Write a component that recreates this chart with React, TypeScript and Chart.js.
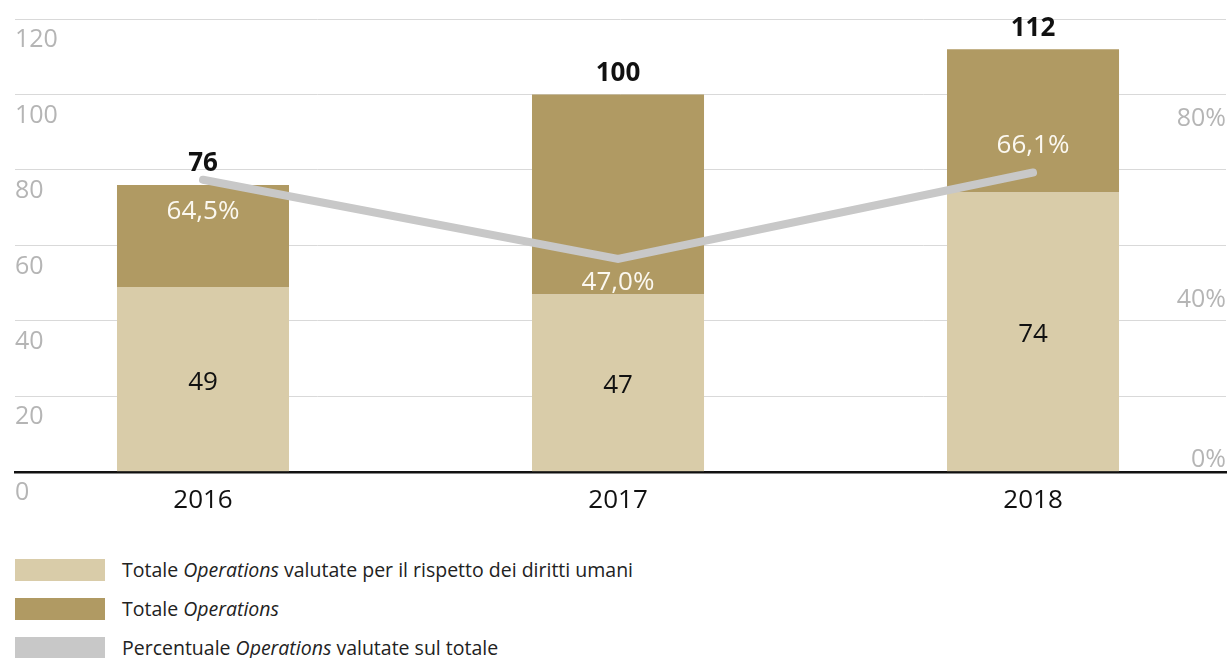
import React, { useEffect, useRef } from 'react';
import { Chart, registerables } from 'chart.js';

Chart.register(...registerables);

// ---- Data ----
const categories = ['2016', '2017', '2018'];
const assessedOps = [49, 47, 74];
const totalOps = [76, 100, 112];
const pctAssessed = [64.5, 47.0, 66.1];
const leftTicks = [0, 20, 40, 60, 80, 100, 120];
const rightTicks = [0, 40, 80];
const legendLabels: string[][] = [
  ['Totale ', 'Operations', ' valutate per il rispetto dei diritti umani'],
  ['Totale ', 'Operations', ''],
  ['Percentuale ', 'Operations', ' valutate sul totale'],
];

// ---- Styles ----
const FONT = '"Open Sans", Lato, sans-serif';
const COLORS = {
  light: '#d9cca9',
  dark: '#b09a63',
  line: '#c8c8c8',
  grid: '#d9d9d9',
  axisText: '#b5b5b5',
  text: '#111111',
  pctText: '#fbf8f0',
};
const legendColors = [COLORS.light, COLORS.dark, COLORS.line];
const pctLabelOffsets = [32, 24, -27];

const fmtPct = (v: number) => v.toFixed(1).replace('.', ',') + '%';

const labelsPlugin = {
  id: 'valueLabels',
  afterDatasetsDraw(chart: any) {
    const ctx = chart.ctx as CanvasRenderingContext2D;
    const baseMeta = chart.getDatasetMeta(0);
    const topMeta = chart.getDatasetMeta(1);
    const lineMeta = chart.getDatasetMeta(2);
    ctx.save();
    ctx.textAlign = 'center';
    ctx.textBaseline = 'middle';
    categories.forEach((_, i) => {
      const b = baseMeta.data[i] as any;
      const t = topMeta.data[i] as any;
      const p = lineMeta.data[i] as any;
      ctx.fillStyle = COLORS.text;
      ctx.font = `400 26px ${FONT}`;
      ctx.fillText(String(assessedOps[i]), b.x, (b.y + b.base) / 2 + 3);
      ctx.font = `700 26px ${FONT}`;
      ctx.fillText(String(totalOps[i]), t.x, t.y - 21);
      ctx.fillStyle = COLORS.pctText;
      ctx.font = `400 26px ${FONT}`;
      ctx.fillText(fmtPct(pctAssessed[i]), p.x, p.y + pctLabelOffsets[i]);
    });
    ctx.restore();
  },
};

export default function App() {
  const canvasRef = useRef<HTMLCanvasElement | null>(null);

  useEffect(() => {
    document.body.style.margin = '0';
    const canvas = canvasRef.current;
    if (!canvas) return;
    const chart = new Chart(canvas, {
      type: 'bar',
      data: {
        datasets: [
          {
            type: 'bar',
            label: legendLabels[0].join(''),
            data: categories.map((_, i) => ({ x: i, y: assessedOps[i] })),
            backgroundColor: COLORS.light,
            barPercentage: 0.4145,
            categoryPercentage: 1,
            order: 1,
            xAxisID: 'x',
            yAxisID: 'y',
          },
          {
            type: 'bar',
            label: legendLabels[1].join(''),
            data: categories.map((_, i) => ({ x: i, y: totalOps[i] - assessedOps[i] })),
            backgroundColor: COLORS.dark,
            barPercentage: 0.4145,
            categoryPercentage: 1,
            order: 1,
            xAxisID: 'x',
            yAxisID: 'y',
          },
          {
            type: 'line',
            label: legendLabels[2].join(''),
            data: categories.map((_, i) => ({ x: i, y: pctAssessed[i] })),
            borderColor: COLORS.line,
            borderWidth: 8,
            borderCapStyle: 'round',
            borderJoinStyle: 'miter',
            pointRadius: 0,
            pointHoverRadius: 0,
            tension: 0,
            fill: false,
            order: 0,
            xAxisID: 'x',
            yAxisID: 'y2',
          },
        ] as any,
      },
      options: {
        animation: false,
        responsive: false,
        maintainAspectRatio: false,
        layout: { padding: { left: 15, right: 3, top: 19, bottom: 4 } },
        plugins: { legend: { display: false }, tooltip: { enabled: false } },
        scales: {
          x: {
            type: 'linear',
            min: -0.453,
            max: 2.465,
            offset: false,
            stacked: true,
            grid: { display: false, drawTicks: false, offset: false },
            border: { display: true, color: '#111111', width: 2.5 },
            afterBuildTicks: (s: any) => {
              s.ticks = categories.map((_, i) => ({ value: i }));
            },
            ticks: {
              callback: (v: any) => categories[v] ?? '',
              color: COLORS.text,
              font: { family: FONT, size: 26 },
              padding: 13,
              autoSkip: false,
              maxRotation: 0,
            },
          },
          y: {
            position: 'left',
            min: 0,
            max: 120,
            stacked: true,
            afterBuildTicks: (s: any) => {
              s.ticks = leftTicks.map((v) => ({ value: v }));
            },
            grid: { color: COLORS.grid, lineWidth: 1, drawTicks: false },
            border: { display: false },
            ticks: {
              mirror: true,
              padding: 0,
              labelOffset: 21,
              color: COLORS.axisText,
              font: { family: FONT, size: 25 },
            },
          },
          y2: {
            position: 'right',
            min: 0,
            max: 100,
            afterBuildTicks: (s: any) => {
              s.ticks = rightTicks.map((v) => ({ value: v }));
            },
            grid: { display: false, drawTicks: false },
            border: { display: false },
            ticks: {
              mirror: true,
              padding: 0,
              labelOffset: 9,
              color: COLORS.axisText,
              font: (c: any) => ({
                family: FONT,
                size: 25,
                lineHeight: c.tick && c.tick.value === 0 ? 1.7 : 1.2,
              }),
              callback: (v: any) => (v === 0 ? ['0%', ''] : v + '%'),
            },
          },
        },
      } as any,
      plugins: [labelsPlugin],
    });
    return () => chart.destroy();
  }, []);

  return (
    <div style={{ position: 'relative', width: 1229, height: 658, fontFamily: FONT, overflow: 'hidden' }}>
      <canvas ref={canvasRef} width={1229} height={533} style={{ display: 'block' }} />
      <div style={{ position: 'absolute', left: 15, top: 559 }}>
        {legendLabels.map((parts, i) => (
          <div key={i} style={{ display: 'flex', alignItems: 'center', height: 22, marginBottom: 17 }}>
            <span style={{ display: 'inline-block', width: 90, height: 22, background: legendColors[i] }} />
            <span style={{ marginLeft: 17, fontSize: 19.5, color: '#222222', whiteSpace: 'nowrap', position: 'relative', top: -1 }}>
              {parts[0]}
              <i>{parts[1]}</i>
              {parts[2]}
            </span>
          </div>
        ))}
      </div>
    </div>
  );
}
